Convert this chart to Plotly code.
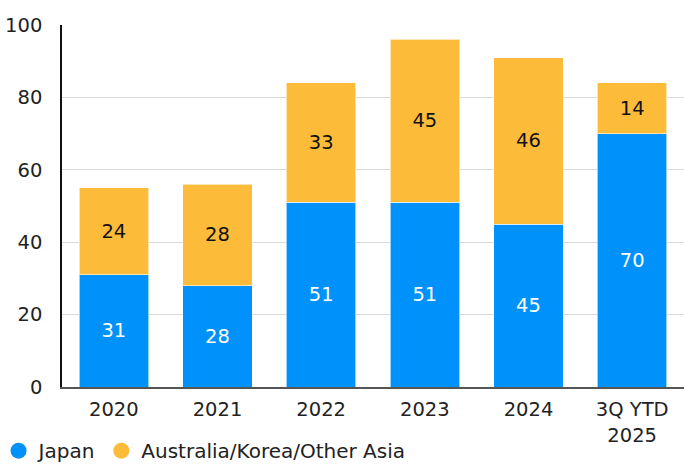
import plotly.graph_objects as go

# Category labels and stacked series values
categories = ["2020", "2021", "2022", "2023", "2024", "3Q YTD<br>2025"]
japan = [31, 28, 51, 51, 45, 70]
other_asia = [24, 28, 33, 45, 46, 14]
series_names = ["Japan", "Australia/Korea/Other Asia"]

y_ticks = [0, 20, 40, 60, 80, 100]

BLUE = "#0091FA"
YELLOW = "#FDBB3A"
FONT = "DejaVu Sans, sans-serif"
TEXT = "#222222"
FS = 19.5

fig = go.Figure()
for name, vals, color, txt in [
    (series_names[0], japan, BLUE, "white"),
    (series_names[1], other_asia, YELLOW, "#111111"),
]:
    fig.add_trace(go.Bar(
        x=categories, y=vals, name=name, showlegend=False,
        marker=dict(color=color, line=dict(color="rgba(255,255,255,0.6)", width=1)),
        text=vals, textposition="inside", insidetextanchor="middle",
        textfont=dict(color=txt, size=FS, family=FONT),
    ))
    # circle swatch for the legend
    fig.add_trace(go.Scatter(
        x=[None], y=[None], mode="markers", name=name,
        marker=dict(symbol="circle", size=17, color=color),
    ))

fig.update_layout(
    barmode="stack",
    bargap=0.33,
    width=686, height=464,
    margin=dict(l=62, r=2, t=25, b=77, autoexpand=False),
    paper_bgcolor="white", plot_bgcolor="white",
    font=dict(family=FONT, size=FS, color=TEXT),
    uniformtext=dict(mode="show", minsize=FS),
    showlegend=True,
    legend=dict(
        orientation="h", xref="paper", yref="paper",
        x=-0.102, xanchor="left", y=-0.122, yanchor="top",
        font=dict(size=20, color=TEXT), itemwidth=30,
        traceorder="normal",
    ),
    xaxis=dict(
        showline=True, linecolor="#555555", linewidth=2, automargin=False,
        ticks="", tickfont=dict(size=FS), showgrid=False,
        ticklabelstandoff=4,
    ),
    yaxis=dict(
        range=[0, 100], tickvals=y_ticks, showgrid=True, gridcolor="#D9D9D9",
        gridwidth=1, showline=True, linecolor="#111111", linewidth=1.5,
        automargin=False, ticks="", ticklabelstandoff=14,
        tickfont=dict(size=FS), zeroline=False,
    ),
)

fig.write_html("out.html")
